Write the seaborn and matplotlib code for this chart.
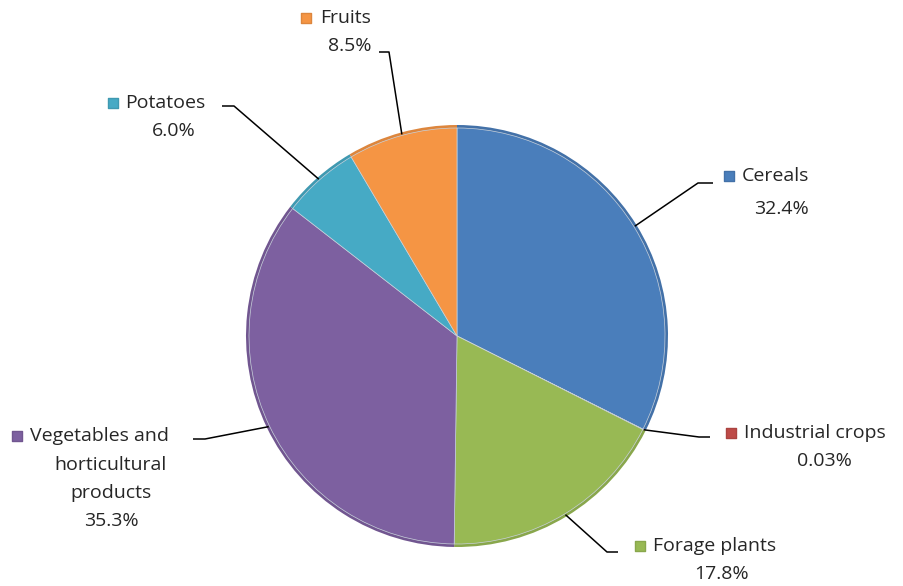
import matplotlib
matplotlib.use("Agg")
import numpy as np
import matplotlib.pyplot as plt
import seaborn as sns

# shares of agricultural output, clockwise from 12 o'clock
categories = ["Cereals", "Industrial crops", "Forage plants",
              "Vegetables and horticultural products", "Potatoes", "Fruits"]
shares = [32.4, 0.03, 17.8, 35.3, 6.0, 8.5]
pct_labels = ["32.4%", "0.03%", "17.8%", "35.3%", "6.0%", "8.5%"]
name_lines = [["Cereals"], ["Industrial crops"], ["Forage plants"],
              ["Vegetables and", "horticultural", "products"], ["Potatoes"], ["Fruits"]]
colors = ["#4A7EBB", "#BE4B48", "#98B954", "#7D60A0", "#46AAC5", "#F59544"]

W, H = 904, 586
CX, CY, R = 457, 336, 211  # pie centre / radius in pixels (top origin)

# label layout in pixels (top origin): marker centre, first-line text x, pct centre,
# leader elbow and leader end
layout = {
    "Cereals": dict(marker=(729, 176), text_x=742, pct=(781, 209), elbow=(698, 183), end=(713, 183)),
    "Industrial crops": dict(marker=(731, 433), text_x=744, pct=(824, 461), elbow=(699, 437), end=(710, 437)),
    "Forage plants": dict(marker=(640, 546), text_x=653, pct=(722, 574), elbow=(607, 552), end=(618, 552)),
    "Vegetables and horticultural products": dict(marker=(17, 436), text_x=30, pct=(111, 521),
                                                  elbow=(205, 439), end=(193, 439)),
    "Potatoes": dict(marker=(113, 103), text_x=125, pct=(174, 131), elbow=(234, 106), end=(222, 106)),
    "Fruits": dict(marker=(306, 18), text_x=320, pct=(350, 46), elbow=(389, 52), end=(379, 52)),
}


def flip(p):
    return p[0], H - p[1]


sns.set_theme(style="white")
plt.rcParams["font.family"] = ["Open Sans", "DejaVu Sans"]

fig = plt.figure(figsize=(W / 100, H / 100), dpi=100)
ax = fig.add_axes([0, 0, 1, 1])

cx, cy = flip((CX, CY))
# slightly darker rim to hint at the bevelled look
rim = [tuple(np.array(matplotlib.colors.to_rgb(c)) * 0.9) for c in colors]
ax.pie(shares, colors=rim, startangle=90, counterclock=False, center=(cx, cy), radius=R,
       wedgeprops=dict(linewidth=0))
wedges, _ = ax.pie(shares, colors=colors, startangle=90, counterclock=False, center=(cx, cy),
                   radius=R - 3, wedgeprops=dict(linewidth=0.5, edgecolor="#c9d2dc"))

fs = 14
line_h = 28
for w, cat, lines, pct, col, rc in zip(wedges, categories, name_lines, pct_labels, colors, rim):
    lay = layout[cat]
    mid = np.deg2rad((w.theta1 + w.theta2) / 2)
    ex, ey = cx + (R - 2) * np.cos(mid), cy + (R - 2) * np.sin(mid)
    elx, ely = flip(lay["elbow"])
    enx, eny = flip(lay["end"])
    ax.plot([ex, elx, enx], [ey, ely, eny], color="black", linewidth=1.1, solid_capstyle="butt")

    mx, my = flip(lay["marker"])
    ax.scatter([mx], [my], marker="s", s=60, color=col, edgecolors=rc, linewidths=1.0, zorder=5)
    ax.text(lay["text_x"], my, lines[0], fontsize=fs, ha="left", va="center")
    px, py = flip(lay["pct"])
    for i, extra in enumerate(lines[1:]):
        ax.text(px, py + line_h * (len(lines) - 1 - i), extra, fontsize=fs, ha="center", va="center")
    ax.text(px, py, pct, fontsize=fs, ha="center", va="center")

ax.set_xlim(0, W)
ax.set_ylim(0, H)
ax.set_aspect("equal")
ax.axis("off")

fig.savefig("out.png", dpi=100)
